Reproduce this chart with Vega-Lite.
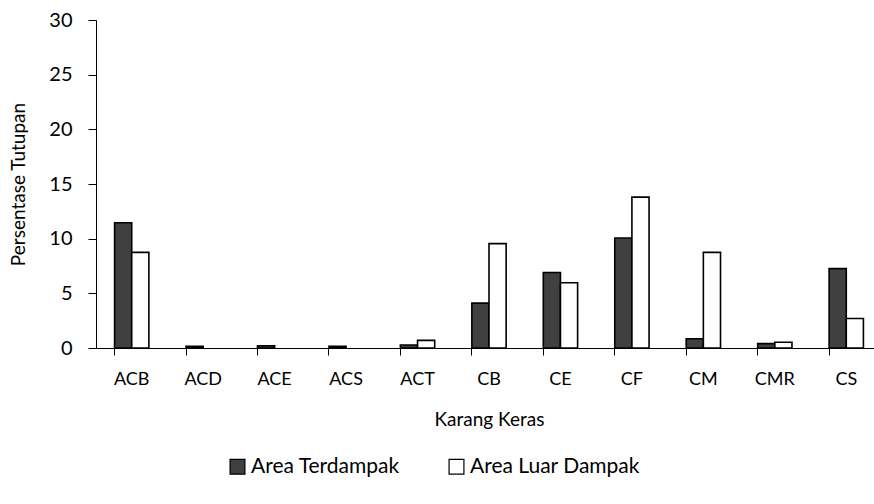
{
  "$schema": "https://vega.github.io/schema/vega-lite/v6.json",
  "autosize": "none",
  "width": 786,
  "height": 328,
  "padding": {"left": 96, "top": 20, "right": 0, "bottom": 156},
  "background": "white",
  "config": {"font": "Lato", "view": {"stroke": null}},
  "data": {"values": [
    {"kategori": "ACB", "area": "Area Terdampak", "nilai": 11.46},
    {"kategori": "ACB", "area": "Area Luar Dampak", "nilai": 8.75},
    {"kategori": "ACD", "area": "Area Terdampak", "nilai": 0.15},
    {"kategori": "ACE", "area": "Area Terdampak", "nilai": 0.2},
    {"kategori": "ACS", "area": "Area Terdampak", "nilai": 0.15},
    {"kategori": "ACT", "area": "Area Terdampak", "nilai": 0.27},
    {"kategori": "ACT", "area": "Area Luar Dampak", "nilai": 0.7},
    {"kategori": "CB", "area": "Area Terdampak", "nilai": 4.1},
    {"kategori": "CB", "area": "Area Luar Dampak", "nilai": 9.55},
    {"kategori": "CE", "area": "Area Terdampak", "nilai": 6.9},
    {"kategori": "CE", "area": "Area Luar Dampak", "nilai": 5.97},
    {"kategori": "CF", "area": "Area Terdampak", "nilai": 10.06},
    {"kategori": "CF", "area": "Area Luar Dampak", "nilai": 13.8},
    {"kategori": "CM", "area": "Area Terdampak", "nilai": 0.85},
    {"kategori": "CM", "area": "Area Luar Dampak", "nilai": 8.75},
    {"kategori": "CMR", "area": "Area Terdampak", "nilai": 0.4},
    {"kategori": "CMR", "area": "Area Luar Dampak", "nilai": 0.52},
    {"kategori": "CS", "area": "Area Terdampak", "nilai": 7.26},
    {"kategori": "CS", "area": "Area Luar Dampak", "nilai": 2.7}
  ]},
  "mark": {"type": "bar", "stroke": "black", "strokeWidth": 1.6},
  "encoding": {
    "x": {
      "field": "kategori", "type": "nominal", "sort": null,
      "scale": {"paddingInner": 0.52, "paddingOuter": 0.26},
      "axis": {
        "title": "Karang Keras", "titleFontSize": 19, "titleFontWeight": "normal", "titleColor": "black", "titlePadding": 22,
        "labelAngle": 0, "labelFontSize": 18, "labelColor": "black", "labelPadding": 15,
        "bandPosition": 0, "tickColor": "black", "tickSize": 7, "domainColor": "black", "domainWidth": 1
      }
    },
    "xOffset": {"field": "area", "type": "nominal", "scale": {"domain": ["Area Terdampak", "Area Luar Dampak"], "paddingInner": 0, "paddingOuter": 0}},
    "y": {
      "field": "nilai", "type": "quantitative",
      "scale": {"domain": [0, 30]},
      "axis": {
        "title": "Persentase Tutupan", "titleFontSize": 19, "titleFontWeight": "normal", "titleColor": "black", "titlePadding": 20,
        "values": [0, 5, 10, 15, 20, 25, 30], "grid": false,
        "labelFontSize": 20, "labelColor": "black", "labelPadding": 16,
        "tickColor": "black", "tickSize": 8, "domainColor": "black"
      }
    },
    "fill": {
      "field": "area", "type": "nominal",
      "scale": {"domain": ["Area Terdampak", "Area Luar Dampak"], "range": ["#404040", "#ffffff"]},
      "legend": {
        "title": null, "orient": "none", "direction": "horizontal",
        "legendX": 131, "legendY": 436,
        "symbolType": "square", "symbolSize": 220, "symbolStrokeColor": "black", "symbolStrokeWidth": 1.2, "symbolOpacity": 1,
        "labelFontSize": 21, "labelColor": "black", "labelOffset": 3, "labelLimit": 400, "columnPadding": 46
      }
    }
  }
}
